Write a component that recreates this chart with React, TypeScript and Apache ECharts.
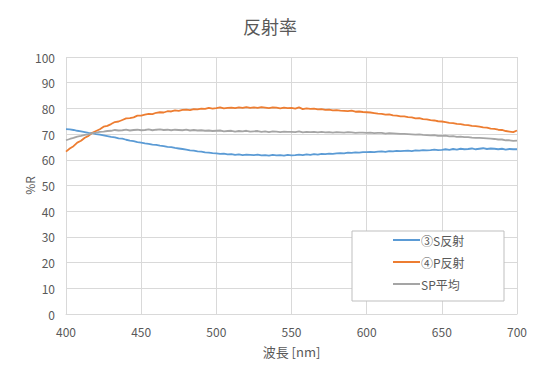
import React, { useEffect, useRef } from "react";
import * as echarts from "echarts";

const wavelengthStart = 400;
const wavelengthStep = 2.5;

const sReflect = [
  71.9, 71.8, 71.6, 71.3, 71.1, 70.8, 70.5, 70.4, 70.0, 69.8,
  69.5, 69.2, 68.9, 68.7, 68.3, 68.2, 67.8, 67.5, 67.3, 66.9,
  66.7, 66.4, 66.2, 65.9, 65.8, 65.5, 65.3, 65.0, 64.9, 64.6,
  64.4, 64.2, 64.0, 63.7, 63.6, 63.3, 63.2, 62.9, 62.8, 62.6,
  62.5, 62.3, 62.4, 62.1, 62.2, 61.9, 62.1, 61.8, 62.0, 61.9,
  61.8, 62.0, 61.7, 61.8, 61.6, 61.9, 61.7, 61.8, 61.6, 61.9,
  61.7, 61.8, 62.0, 61.8, 62.1, 61.9, 62.2, 62.0, 62.3, 62.2,
  62.4, 62.3, 62.5, 62.6, 62.5, 62.8, 62.7, 62.9, 62.8, 63.0,
  63.0, 63.1, 63.0, 63.2, 63.3, 63.1, 63.4, 63.3, 63.5, 63.4,
  63.5, 63.6, 63.4, 63.7, 63.6, 63.8, 63.7, 63.8, 64.0, 63.8,
  63.9, 64.1, 63.9, 64.2, 64.0, 64.3, 64.1, 64.2, 64.4, 64.1,
  64.3, 64.5, 64.2, 64.4, 64.3, 64.1, 64.3, 64.0, 64.2, 64.1,
  64.1,
];

const pReflect = [
  63.2, 64.4, 65.3, 66.7, 67.4, 68.6, 69.3, 70.5, 71.2, 71.9,
  72.9, 73.2, 73.9, 74.7, 74.9, 75.5, 76.1, 76.2, 76.5, 77.2,
  77.2, 77.6, 77.9, 77.8, 78.3, 78.5, 78.4, 78.9, 78.8, 79.2,
  79.0, 79.4, 79.5, 79.3, 79.7, 79.6, 79.9, 79.8, 80.2, 79.9,
  80.1, 80.4, 80.0, 80.2, 80.3, 80.1, 80.4, 80.2, 80.5, 80.2,
  80.4, 80.2, 80.5, 80.3, 80.1, 80.4, 80.3, 80.0, 80.3, 80.1,
  80.2, 79.9, 80.4, 79.7, 80.0, 79.8, 79.9, 79.6, 79.7, 79.4,
  79.5, 79.2, 79.3, 79.1, 79.0, 78.9, 79.1, 78.7, 78.8, 78.6,
  78.5, 78.4, 78.2, 78.0, 77.9, 77.6, 77.7, 77.3, 77.2, 76.9,
  76.9, 76.6, 76.5, 76.1, 76.2, 75.8, 75.7, 75.4, 75.3, 75.0,
  74.9, 74.7, 74.4, 74.3, 74.0, 73.9, 73.6, 73.5, 73.2, 73.1,
  72.9, 72.6, 72.5, 72.1, 72.0, 71.7, 71.6, 71.2, 71.0, 70.8,
  71.4,
];

const spAverage = [
  67.6, 68.1, 68.5, 69.0, 69.3, 69.7, 69.9, 70.4, 70.6, 70.9,
  71.0, 71.2, 71.3, 71.6, 71.4, 71.5, 71.7, 71.4, 71.6, 71.7,
  71.5, 71.6, 71.8, 71.5, 71.7, 71.8, 71.6, 71.7, 71.5, 71.7,
  71.6, 71.5, 71.7, 71.4, 71.6, 71.4, 71.5, 71.3, 71.4, 71.2,
  71.3, 71.4, 71.1, 71.2, 71.3, 71.0, 71.2, 71.1, 71.3, 71.0,
  71.1, 71.2, 70.9, 71.1, 70.8, 71.1, 71.0, 70.8, 71.0, 70.9,
  70.9, 70.8, 71.1, 70.7, 70.9, 70.8, 70.9, 70.7, 70.9, 70.7,
  70.8, 70.6, 70.8, 70.7, 70.6, 70.8, 70.7, 70.5, 70.6, 70.6,
  70.5, 70.6, 70.4, 70.5, 70.5, 70.2, 70.4, 70.3, 70.2, 70.1,
  70.1, 70.0, 69.9, 69.8, 69.9, 69.7, 69.6, 69.5, 69.6, 69.3,
  69.3, 69.4, 69.1, 69.2, 68.9, 69.0, 68.8, 68.8, 68.6, 68.5,
  68.5, 68.4, 68.3, 68.2, 68.1, 67.9, 67.9, 67.6, 67.6, 67.4,
  67.5,
];

const seriesNames = ["③S反射", "④P反射", "SP平均"];
const seriesColors = ["#5B9BD5", "#ED7D31", "#A5A5A5"];

const toPairs = (vals: number[]) =>
  vals.map((v, i) => [wavelengthStart + i * wavelengthStep, v]);

const FONT = "'Noto Sans CJK JP', 'Noto Sans', sans-serif";
const TEXT = "#595959";

export default function App() {
  const ref = useRef<HTMLDivElement>(null);
  useEffect(() => {
    if (!ref.current) return;
    const chart = echarts.init(ref.current, null, { renderer: "svg" });
    const datasets = [sReflect, pReflect, spAverage];
    chart.setOption({
      animation: false,
      backgroundColor: "#ffffff",
      textStyle: { fontFamily: FONT },
      title: {
        text: "反射率",
        left: "center",
        top: 12,
        textStyle: { fontFamily: FONT, fontSize: 18, fontWeight: "normal", color: TEXT },
      },
      grid: { left: 66, right: 23, top: 57, bottom: 66 },
      xAxis: {
        type: "value",
        min: 400,
        max: 700,
        interval: 50,
        name: "波長 [nm]",
        nameLocation: "middle",
        nameGap: 31,
        nameMoveOverlap: false,
        nameTextStyle: { fontFamily: FONT, fontSize: 13, color: TEXT },
        axisLine: { show: true, lineStyle: { color: "#D9D9D9", width: 1 } },
        axisTick: { show: false },
        axisLabel: { margin: 11, fontFamily: FONT, fontSize: 12, color: TEXT },
        splitLine: { show: true, lineStyle: { color: "#D9D9D9", width: 1 } },
      },
      yAxis: {
        type: "value",
        min: 0,
        max: 100,
        interval: 10,
        name: "%R",
        nameLocation: "middle",
        nameGap: 31,
        nameMoveOverlap: false,
        nameRotate: 90,
        nameTextStyle: { fontFamily: FONT, fontSize: 12, color: TEXT },
        axisLine: { show: false },
        axisTick: { show: false },
        axisLabel: { margin: 11, fontFamily: FONT, fontSize: 12, color: TEXT },
        splitLine: { show: true, lineStyle: { color: "#D9D9D9", width: 1 } },
      },
      legend: {
        orient: "vertical",
        left: 393,
        top: 234,
        padding: 0,
        itemGap: 10,
        itemWidth: 27,
        itemHeight: 2,
        icon: "rect",
        textStyle: { fontFamily: FONT, fontSize: 12, color: TEXT, padding: [0, 0, 0, -4] },
        data: seriesNames,
      },
      graphic: [
        {
          type: "rect",
          z: 3,
          shape: { x: 352, y: 231, width: 152, height: 70 },
          style: { fill: "#ffffff", stroke: "#BFBFBF", lineWidth: 1 },
        },
      ],
      series: datasets.map((d, i) => ({
        name: seriesNames[i],
        type: "line",
        data: toPairs(d),
        showSymbol: false,
        symbol: "none",
        color: seriesColors[i],
        lineStyle: { width: 1.8, color: seriesColors[i] },
        z: 2,
      })),
    });
    return () => chart.dispose();
  }, []);
  return (
    <div
      ref={ref}
      style={{ position: "fixed", left: 0, top: 0, width: 540, height: 380 }}
    />
  );
}
